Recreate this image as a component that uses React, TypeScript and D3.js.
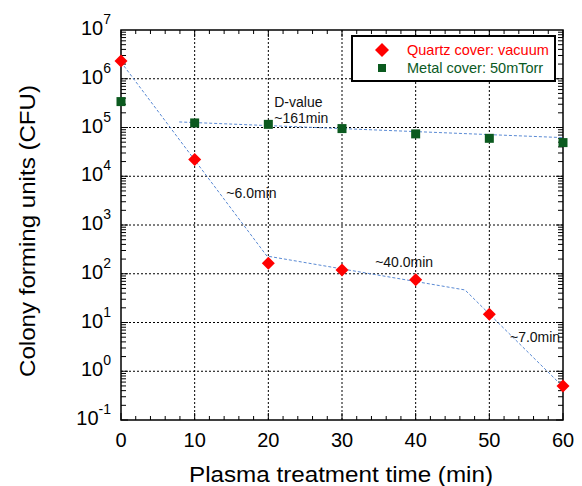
import React, { useRef, useEffect } from 'react';
import * as d3 from 'd3';

const WIDTH = 582;
const HEIGHT = 486;
const margin = { top: 30, right: 19, bottom: 66, left: 121 };

const FONT = 'Arial, "Liberation Sans", Helvetica, sans-serif';
const RED = '#ff0000';
const GREEN = '#0b5a1f';
const FIT_BLUE = '#5a8ad4';

// treatment times (min)
const times = [0, 10, 20, 30, 40, 50, 60];
// Quartz cover: vacuum (CFU)
const quartzValues = [2.3e6, 2.2e4, 164, 119, 75, 14.7, 0.5];
// Metal cover: 50mTorr (CFU)
const metalValues = [3.4e5, 1.24e5, 1.16e5, 9.5e4, 7.4e4, 6.0e4, 4.9e4];

// dashed fit lines, [time, CFU]
const quartzFit: [number, number][] = [[0, 2.2e6], [19.8, 231], [46.7, 46.5], [59.5, 0.57]];
const metalFit: [number, number][] = [[7.9, 1.3e5], [60, 6.2e4]];

const xTicks = [0, 10, 20, 30, 40, 50, 60];
const yExponents = [-1, 0, 1, 2, 3, 4, 5, 6, 7];

// annotation text, [time, CFU, label]
const annotations: [number, number, string][] = [
  [20.8, 2.67e5, 'D-value'],
  [20.8, 1.24e5, '~161min'],
  [14.3, 3.58e3, '~6.0min'],
  [34.5, 140, '~40.0min'],
  [52.8, 3.93, '~7.0min'],
];

const legendItems = [
  { label: 'Quartz cover: vacuum', color: RED, shape: 'diamond' },
  { label: 'Metal cover: 50mTorr', color: GREEN, shape: 'square' },
];

const diamond = (size: number) => `M0,${-size}L${size},0L0,${size}L${-size},0Z`;

const Chart = () => {
  const svgRef = useRef<SVGSVGElement>(null);

  useEffect(() => {
    const svg = d3.select(svgRef.current);
    svg.selectAll('*').remove();

    const innerW = WIDTH - margin.left - margin.right;
    const innerH = HEIGHT - margin.top - margin.bottom;

    const x = d3.scaleLinear().domain([0, 60]).range([margin.left, margin.left + innerW]);
    const y = d3.scaleLog().domain([0.1, 1e7]).range([margin.top + innerH, margin.top]);

    const x0 = margin.left, x1 = margin.left + innerW;
    const y0 = margin.top + innerH, y1 = margin.top;

    // grid lines (dotted)
    const grid = svg.append('g');
    xTicks.slice(1, -1).forEach(t => {
      grid.append('line')
        .attr('x1', x(t)).attr('x2', x(t))
        .attr('y1', y1).attr('y2', y0)
        .attr('stroke', '#000').attr('stroke-width', 1)
        .attr('stroke-dasharray', '2,2');
    });
    yExponents.slice(1, -1).forEach(e => {
      grid.append('line')
        .attr('x1', x0).attr('x2', x1)
        .attr('y1', y(Math.pow(10, e))).attr('y2', y(Math.pow(10, e)))
        .attr('stroke', '#000').attr('stroke-width', 1)
        .attr('stroke-dasharray', '2,2');
    });

    // minor ticks, inward on all four sides
    const ticks = svg.append('g').attr('stroke', '#000').attr('stroke-width', 1);
    d3.range(0, 61, 2).forEach(t => {
      const len = t % 10 === 0 ? 7 : 4;
      ticks.append('line').attr('x1', x(t)).attr('x2', x(t)).attr('y1', y0).attr('y2', y0 - len);
      ticks.append('line').attr('x1', x(t)).attr('x2', x(t)).attr('y1', y1).attr('y2', y1 + len);
    });
    yExponents.slice(0, -1).forEach(e => {
      d3.range(1, 10).forEach(m => {
        const v = m * Math.pow(10, e);
        const len = m === 1 ? 7 : 5;
        ticks.append('line').attr('x1', x0).attr('x2', x0 + len).attr('y1', y(v)).attr('y2', y(v));
        ticks.append('line').attr('x1', x1).attr('x2', x1 - len).attr('y1', y(v)).attr('y2', y(v));
      });
    });

    // frame
    svg.append('rect')
      .attr('x', x0).attr('y', y1)
      .attr('width', innerW).attr('height', innerH)
      .attr('fill', 'none').attr('stroke', '#000').attr('stroke-width', 1.5);

    // x tick labels
    xTicks.forEach(t => {
      svg.append('text')
        .attr('x', x(t)).attr('y', 447)
        .attr('text-anchor', 'middle')
        .attr('font-family', FONT).attr('font-size', 20)
        .text(t);
    });

    // y tick labels 10^n
    yExponents.forEach(e => {
      const txt = svg.append('text')
        .attr('x', 111).attr('y', y(Math.pow(10, e)) + 5)
        .attr('text-anchor', 'end')
        .attr('font-family', FONT).attr('font-size', 20);
      txt.append('tspan').text('10');
      txt.append('tspan').attr('font-size', 14).attr('dy', -11).text(e);
    });

    // axis titles
    svg.append('text')
      .attr('x', 341).attr('y', 482)
      .attr('text-anchor', 'middle')
      .attr('font-family', FONT).attr('font-size', 22)
      .attr('textLength', 304).attr('lengthAdjust', 'spacingAndGlyphs')
      .text('Plasma treatment time (min)');

    svg.append('text')
      .attr('transform', `translate(35,231) rotate(-90)`)
      .attr('text-anchor', 'middle')
      .attr('font-family', FONT).attr('font-size', 22)
      .attr('textLength', 292).attr('lengthAdjust', 'spacingAndGlyphs')
      .text('Colony forming units (CFU)');

    // fit lines
    const line = d3.line<[number, number]>().x(d => x(d[0])).y(d => y(d[1]));
    [quartzFit, metalFit].forEach(fit => {
      svg.append('path')
        .attr('d', line(fit))
        .attr('fill', 'none')
        .attr('stroke', FIT_BLUE).attr('stroke-width', 1)
        .attr('stroke-dasharray', '3,2');
    });

    // annotations
    annotations.forEach(([t, v, label]) => {
      svg.append('text')
        .attr('x', x(t)).attr('y', y(v))
        .attr('font-family', FONT).attr('font-size', 14)
        .attr('fill', '#111')
        .text(label);
    });

    // markers
    times.forEach((t, i) => {
      svg.append('rect')
        .attr('x', x(t) - 4.5).attr('y', y(metalValues[i]) - 4.5)
        .attr('width', 9).attr('height', 9)
        .attr('fill', GREEN);
    });
    times.forEach((t, i) => {
      svg.append('path')
        .attr('d', diamond(6.5))
        .attr('transform', `translate(${x(t)},${y(quartzValues[i])})`)
        .attr('fill', RED);
    });

    // legend
    const legend = svg.append('g');
    legend.append('rect')
      .attr('x', 352).attr('y', 36)
      .attr('width', 203).attr('height', 45)
      .attr('fill', '#fff').attr('stroke', '#000').attr('stroke-width', 2);
    legendItems.forEach((item, i) => {
      const cy = 50 + i * 18;
      if (item.shape === 'diamond') {
        legend.append('path').attr('d', diamond(7)).attr('transform', `translate(382,${cy})`).attr('fill', item.color);
      } else {
        legend.append('rect').attr('x', 378).attr('y', cy - 4).attr('width', 8).attr('height', 8).attr('fill', item.color);
      }
      legend.append('text')
        .attr('x', 407).attr('y', cy + 5)
        .attr('font-family', FONT).attr('font-size', 14.5)
        .attr('fill', item.color)
        .text(item.label);
    });
  }, []);

  return <svg ref={svgRef} width={WIDTH} height={HEIGHT} style={{ position: 'absolute', left: 0, top: 0, background: '#fff' }} />;
};

export default function App() {
  return <Chart />;
}
